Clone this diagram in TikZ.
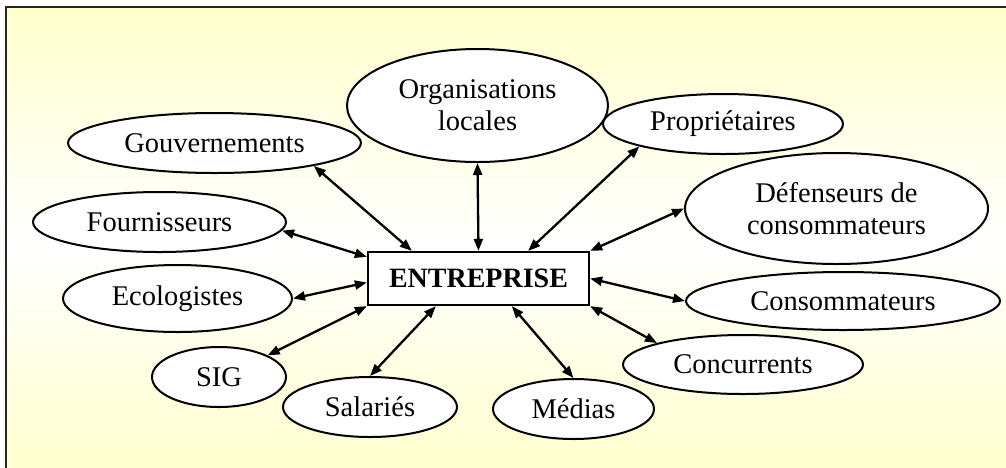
\documentclass[tikz,border=0pt]{standalone}
\usepackage{fontspec}
\setmainfont{Liberation Serif}
\usetikzlibrary{shapes.geometric,arrows.meta}
\definecolor{ylw}{HTML}{FFFFCC}
\tikzset{
  actor/.style={ellipse, draw=black, line width=2pt, fill=white, inner sep=0pt, align=center,
                font=\fontsize{28.5}{32}\selectfont},
  centerbox/.style={rectangle, draw=black, line width=2.3pt, fill=white, inner sep=0pt,
                minimum width=221pt, minimum height=53pt, font=\fontsize{28}{32}\selectfont\bfseries},
  link/.style={{Triangle[length=12pt,width=9pt]}-{Triangle[length=12pt,width=9pt]}, line width=2.3pt}
}
\begin{document}
\begin{tikzpicture}[x=1pt,y=-1pt]
\useasboundingbox (0,0) rectangle (1006,467);
\shade[top color=ylw, bottom color=ylw, middle color=white] (6,7) rectangle (1030,480);
\draw[line width=2.8pt, black!85] (6,480) -- (6,7) -- (1030,7);

\node[centerbox] (box) at (478.5,278.5) {ENTREPRISE};

\node[actor, minimum width=293pt, minimum height=60pt] (gouv) at (214.5,143) {Gouvernements};
\node[actor, minimum width=261pt, minimum height=113pt] (org) at (477.5,105.5) {Organisations\\locales};
\node[actor, minimum width=240pt, minimum height=60pt] (prop) at (723,124) {Propriétaires};
\node[actor, minimum width=303pt, minimum height=111pt] (def) at (836.5,208.5) {Défenseurs de\\consommateurs};
\node[actor, minimum width=253pt, minimum height=60pt] (four) at (159.5,222) {Fournisseurs};
\node[actor, minimum width=229pt, minimum height=67pt] (eco) at (177.5,298.5) {Ecologistes};
\node[actor, minimum width=314pt, minimum height=58pt] (cons) at (843,301) {Consommateurs};
\node[actor, minimum width=240pt, minimum height=59pt] (conc) at (743,364.5) {Concurrents};
\node[actor, minimum width=134pt, minimum height=60pt] (sig) at (219,377) {SIG};
\node[actor, minimum width=174pt, minimum height=60pt] (sal) at (370,407) {Salariés};
\node[actor, minimum width=161pt, minimum height=60pt] (med) at (573.5,409) {Médias};

\draw[link] (gouv.-13) -- ([xshift=45pt]box.north west);
\draw[link] (org.south) -- (box.north);
\draw[link] (prop.195) -- ([xshift=-62pt]box.north east);
\draw[link] (def.west) -- (box.north east);
\draw[link] (cons.west) -- (box.east);
\draw[link] (conc.166) -- (box.south east);
\draw[link] (med.north) -- ([xshift=145pt]box.south west);
\draw[link] (sal.north) -- ([xshift=69pt]box.south west);
\draw[link] (sig.24) -- (box.south west);
\draw[link] (eco.east) -- ([yshift=-4pt]box.west);
\draw[link] (four.-4) -- ([yshift=-6pt]box.north west);
\end{tikzpicture}
\end{document}
